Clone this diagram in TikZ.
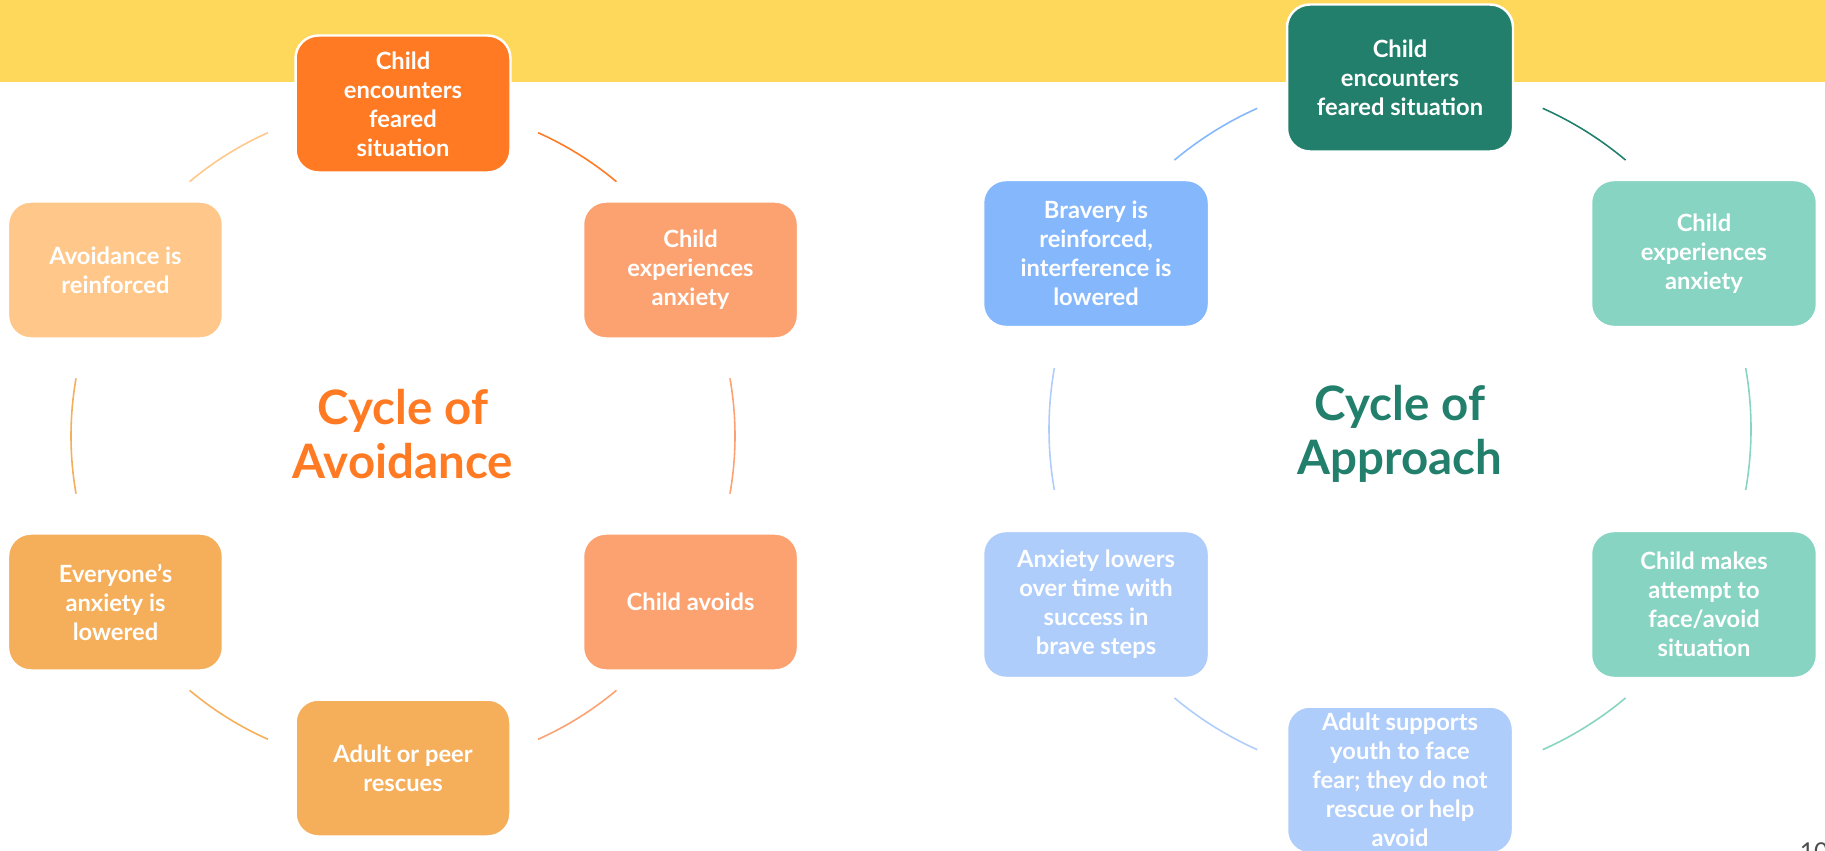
\documentclass[tikz,border=0pt]{standalone}
\usepackage{fontspec}
\setmainfont{Lato}

\begin{document}
\begin{tikzpicture}[x=0.02cm, y=0.02cm,
    avoidbox/.style={rounded corners=13pt, draw=white, line width=1.4pt, text=white,
        minimum width=4.3cm, minimum height=2.74cm, align=center,
        font=\bfseries\fontsize{13.5}{16.5}\selectfont},
    approachbox/.style={avoidbox, minimum width=4.52cm, minimum height=2.94cm},
    cycletitle/.style={align=center, font=\bfseries\fontsize{27}{30.7}\selectfont},
    ringarc/.style={line width=0.9pt}]
    % Define colors
    \definecolor{bandyellow}{RGB}{253,216,90}
    \definecolor{avoiddark}{RGB}{255,122,34}
    \definecolor{avoidsalmon}{RGB}{252,162,113}
    \definecolor{avoidpale}{RGB}{255,200,138}
    \definecolor{avoidamber}{RGB}{245,175,91}
    \definecolor{approachdark}{RGB}{33,127,107}
    \definecolor{approachteal}{RGB}{136,212,195}
    \definecolor{approachblue}{RGB}{133,183,253}
    \definecolor{approachpale}{RGB}{175,205,250}

    \def\rl{332}
    \def\rr{351}

    % Page and yellow band
    \useasboundingbox (0,0) rectangle (1825,850);
    \fill[bandyellow] (0,768) rectangle (1825,850);

    \coordinate (lc) at (403,414);
    \coordinate (rc) at (1400,421);

    % Ring arcs - avoidance
    \draw[ringarc, avoiddark] ([shift={(66:\rl)}]lc) arc[start angle=66, end angle=50, radius=\rl];
    \draw[ringarc, avoidsalmon] ([shift={(10:\rl)}]lc) arc[start angle=10, end angle=-10, radius=\rl];
    \draw[ringarc, avoidsalmon] ([shift={(-50:\rl)}]lc) arc[start angle=-50, end angle=-66, radius=\rl];
    \draw[ringarc, avoidamber] ([shift={(-114:\rl)}]lc) arc[start angle=-114, end angle=-130, radius=\rl];
    \draw[ringarc, avoidamber] ([shift={(170:\rl)}]lc) arc[start angle=170, end angle=190, radius=\rl];
    \draw[ringarc, avoidpale] ([shift={(114:\rl)}]lc) arc[start angle=114, end angle=130, radius=\rl];

    % Ring arcs - approach
    \draw[ringarc, approachdark] ([shift={(66:\rr)}]rc) arc[start angle=66, end angle=50, radius=\rr];
    \draw[ringarc, approachteal] ([shift={(10:\rr)}]rc) arc[start angle=10, end angle=-10, radius=\rr];
    \draw[ringarc, approachteal] ([shift={(-50:\rr)}]rc) arc[start angle=-50, end angle=-66, radius=\rr];
    \draw[ringarc, approachpale] ([shift={(-114:\rr)}]rc) arc[start angle=-114, end angle=-130, radius=\rr];
    \draw[ringarc, approachpale] ([shift={(170:\rr)}]rc) arc[start angle=170, end angle=190, radius=\rr];
    \draw[ringarc, approachblue] ([shift={(114:\rr)}]rc) arc[start angle=114, end angle=130, radius=\rr];

    % Cycle of Avoidance
    \node[avoidbox, fill=avoiddark] (avtop) at ([shift={(90:\rl)}]lc) {Child\\encounters\\feared\\situation};
    \node[avoidbox, fill=avoidsalmon] (avanx) at ([shift={(30:\rl)}]lc) {Child\\experiences\\anxiety};
    \node[avoidbox, fill=avoidsalmon] (avavoid) at ([shift={(-30:\rl)}]lc) {Child avoids};
    \node[avoidbox, fill=avoidamber] (avrescue) at ([shift={(-90:\rl)}]lc) {Adult or peer\\rescues};
    \node[avoidbox, fill=avoidamber] (avlower) at ([shift={(-150:\rl)}]lc) {Everyone’s\\anxiety is\\lowered};
    \node[avoidbox, fill=avoidpale] (avreinf) at ([shift={(150:\rl)}]lc) {Avoidance is\\reinforced};
    \node[cycletitle, text=avoiddark] (avtitle) at ([shift={(0,2)}]lc) {Cycle of\\Avoidance};

    % Cycle of Approach
    \node[approachbox, fill=approachdark] (aptop) at ([shift={(90:\rr)}]rc) {Child\\encounters\\feared situation};
    \node[approachbox, fill=approachteal] (apanx) at ([shift={(30:\rr)}]rc) {Child\\experiences\\anxiety};
    \node[approachbox, fill=approachteal] (apattempt) at ([shift={(-30:\rr)}]rc) {Child makes\\attempt to\\face/avoid\\situation};
    \node[approachbox, fill=approachpale] (apsupport) at ([shift={(-90:\rr)}]rc) {Adult supports\\youth to face\\fear; they do not\\rescue or help\\avoid};
    \node[approachbox, fill=approachpale] (aplower) at ([shift={(-150:\rr)}]rc) {Anxiety lowers\\over time with\\success in\\brave steps};
    \node[approachbox, fill=approachblue] (apreinf) at ([shift={(150:\rr)}]rc) {Bravery is\\reinforced,\\interference is\\lowered};
    \node[cycletitle, text=approachdark] (aptitle) at ([shift={(0,-5)}]rc) {Cycle of\\Approach};

    % Page number, cut by the page edge
    \node[anchor=north, inner sep=0pt, text=black!70, font=\fontsize{14}{16}\selectfont] (pagenum) at (1814,8) {10};
\end{tikzpicture}
\end{document}
